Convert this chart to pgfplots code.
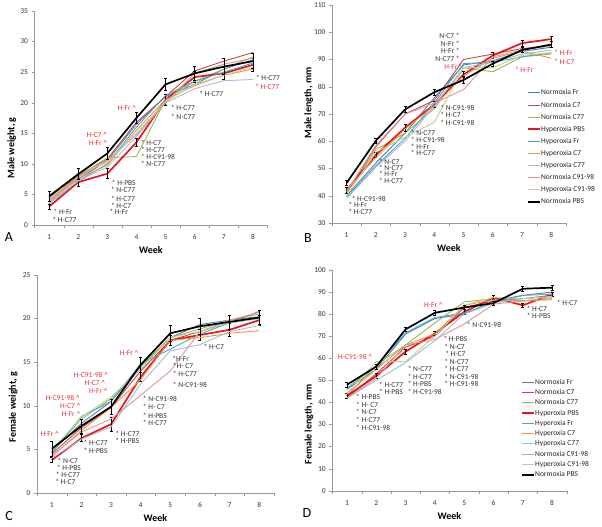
\documentclass[border=0pt]{standalone}
\usepackage{fontspec}
\setmainfont{Carlito}
\usepackage{pgfplots}
\usepackage{pgfplotstable}
\pgfplotsset{compat=1.18}

\definecolor{nfr}{HTML}{4A7EBB}
\definecolor{nc7}{HTML}{BE4B48}
\definecolor{nc77}{HTML}{98B954}
\definecolor{hpbs}{HTML}{E8141B}
\definecolor{hfr}{HTML}{46AAC5}
\definecolor{hc7}{HTML}{F69240}
\definecolor{hc77}{HTML}{A7B9DC}
\definecolor{nc9198}{HTML}{D99795}
\definecolor{hc9198}{HTML}{BCD196}
\definecolor{annred}{HTML}{E5323A}

% week, series..., errors of the two PBS groups
\pgfplotstableread{
week nfr nc7 nc77 hpbs hfr hc7 hc77 nc9198 hc9198 npbs ehpbs enpbs
1 4.2 4.5 4.0 3.0 3.5 3.8 3.6 3.9 4.1 4.7 0.4 0.8
2 7.5 8.0 8.0 7.0 7.2 7.6 7.2 7.8 8.5 8.3 0.6 0.9
3 10.5 10.8 11.0 8.4 10.0 9.8 9.5 10.5 10.2 11.7 0.8 1.0
4 16.5 16.8 11.2 13.5 16.0 15.5 14.5 14.8 15.0 17.5 0.7 0.9
5 21.0 21.0 20.5 20.5 21.2 20.5 20.0 20.0 20.2 23.0 0.9 1.0
6 23.0 25.2 23.5 24.2 23.5 22.8 22.3 24.8 23.0 24.8 0.9 1.2
7 25.5 26.8 25.5 24.8 25.0 24.5 23.6 26.3 24.5 25.9 1.0 1.3
8 27.0 28.2 27.5 26.2 26.5 25.5 23.8 27.3 25.8 26.8 1.0 1.2
}\dataA
\pgfplotstableread{
week nfr nc7 nc77 hpbs hfr hc7 hc77 nc9198 hc9198 npbs ehpbs enpbs
1 40 41 41 42 39.5 42 39 41.5 40 44.7 1.0 1.0
2 52 58 57 55 51 54 50.5 58.5 56 60.2 1.0 1.0
3 63 70 63 65 61 64.5 60 70 61.5 71.7 1.2 1.0
4 76 75 72 73.5 74 73 73 74 67 78 1.0 1.0
5 88 90 87 84.5 88.5 84 87 79 87 82.5 1.2 1.2
6 89.5 92 85.5 91.5 89 90.5 89 91 87 88.5 1.0 1.0
7 93 94 91 96 91 93 92 93.5 91.5 93.5 1.0 1.0
8 94.5 95 92 97.5 92.5 90.5 93.5 95 92.5 95.5 1.0 1.0
}\dataB
\pgfplotstableread{
week nfr nc7 nc77 hpbs hfr hc7 hc77 nc9198 hc9198 npbs ehpbs enpbs
1 4.8 4.5 4.7 3.8 4.6 4.2 4.0 4.3 4.9 5.1 0.3 0.9
2 8.0 7.5 8.5 6.3 8.8 7.2 6.2 7.0 8.7 7.7 0.4 0.8
3 10.5 9.8 10.8 7.9 10.5 9.8 7.6 8.5 11.0 9.9 0.8 0.9
4 14.5 14.0 14.5 13.3 14.8 13.0 12.5 11.2 14.2 14.7 0.5 0.9
5 17.8 17.5 17.8 17.5 16.5 17.5 16.3 14.0 17.8 18.3 0.6 0.9
6 19.3 18.5 18.8 18.1 18.2 17.8 17.0 18.5 18.5 19.1 0.6 0.9
7 19.8 19.5 19.8 18.7 19.5 18.3 18.5 19.8 19.5 19.6 0.7 0.8
8 20.2 20.8 20.5 19.8 20.0 18.6 19.2 20.7 20.0 20.1 0.6 0.8
}\dataC
\pgfplotstableread{
week nfr nc7 nc77 hpbs hfr hc7 hc77 nc9198 hc9198 npbs ehpbs enpbs
1 46 42 43 43 46.5 44 42 42 44 48 1.0 1.2
2 55 53 57 52 56.5 55 50 51 58.5 56.2 1.0 1.2
3 71 65 66 63 71.5 66 58 66 58.5 73.1 1.2 1.0
4 78 70 76 71.3 78.5 71 68 68.5 70 80.6 1.0 1.0
5 80 83 85.5 81 80.5 84 80 75.5 84 83 1.0 1.0
6 86 86 87 87.5 85 86.5 85 84.5 87.5 85 1.0 1.0
7 88.5 87 86 84 88.5 86 87 86 87 91.5 1.0 1.0
8 90 88.5 87 89 89 86.5 88 87.5 88 92 1.0 1.0
}\dataD

\tikzset{
  ann/.style={anchor=west, font=\fontsize{7.5}{8}\selectfont, text=black!80, inner sep=0pt},
  rann/.style={anchor=center, font=\fontsize{7.5}{8}\selectfont, text=annred, inner sep=0pt},
}

\pgfplotsset{
  panel/.style={
    scale only axis,
    xmin=0.5, xmax=8.5,
    axis x line*=bottom, axis y line*=left,
    axis line style={draw=black!40},
    xtick={1,...,8},
    minor xtick={0.5,1.5,...,8.5},
    major x tick style={draw=none},
    minor x tick style={draw=black!40},
    y tick style={draw=black!40},
    minor tick length=3pt, major tick length=3pt,
    tick align=outside,
    tick label style={font=\fontsize{7.5}{8}\selectfont, text=black!80},
    xticklabel style={yshift=-3pt},
    /pgf/number format/assume math mode=true,
    xlabel={Week},
    label style={font=\bfseries\fontsize{10}{11}\selectfont},
    xlabel style={at={(axis description cs:0.5,-0.115)}, anchor=center},
    ylabel style={anchor=center},
    every axis plot/.append style={no marks, line join=round},
    clip=false,
    legend image code/.code={\draw[##1] (0pt,0pt) -- (12pt,0pt);},
    legend cell align=left,
  },
  s1/.style={color=nfr, line width=0.9pt},
  s2/.style={color=nc7, line width=0.9pt},
  s3/.style={color=nc77, line width=0.9pt},
  s4/.style={color=hpbs, line width=1.7pt},
  s5/.style={color=hfr, line width=0.9pt},
  s6/.style={color=hc7, line width=0.9pt},
  s7/.style={color=hc77, line width=0.9pt},
  s8/.style={color=nc9198, line width=0.9pt},
  s9/.style={color=hc9198, line width=0.9pt},
  s10/.style={color=black, line width=1.7pt},
  eb/.style={error bars/.cd, y dir=both, y explicit,
     error bar style={line width=0.6pt, black}, error mark options={line width=0.6pt, black, mark size=1.5pt, rotate=90}},
  leg/.style={legend style={draw=none, fill=none, anchor=north west,
    font=\fontsize{7.5}{8}\selectfont, inner sep=0pt, outer sep=0pt, text=black!85,
    nodes={inner sep=0.5pt, text height=5.5pt, text depth=1.5pt},
    row sep=#1}},
}

\newcommand{\allplots}[1]{%
  \addplot[s1] table[x=week,y=nfr] {#1};
  \addplot[s2] table[x=week,y=nc7] {#1};
  \addplot[s3] table[x=week,y=nc77] {#1};
  \addplot[s4, eb] table[x=week,y=hpbs,y error=ehpbs] {#1};
  \addplot[s5] table[x=week,y=hfr] {#1};
  \addplot[s6] table[x=week,y=hc7] {#1};
  \addplot[s7] table[x=week,y=hc77] {#1};
  \addplot[s8] table[x=week,y=nc9198] {#1};
  \addplot[s9] table[x=week,y=hc9198] {#1};
  \addplot[s10, eb] table[x=week,y=npbs,y error=enpbs] {#1};
}

\begin{document}
\begin{tikzpicture}[x=1pt,y=1pt]
\useasboundingbox (0,0) rectangle (602,527);

% ---------------- A ----------------
\begin{axis}[panel, at={(34.5pt,302pt)}, anchor=south west,
  width=233pt, height=214pt,
  ymin=0, ymax=35, ytick={0,5,...,35},
  ylabel={Male weight, g},
  ylabel style={at={(axis description cs:-0.098,0.36)}}]
\allplots{\dataA}
\node[ann] at (axis cs:1.15,2.1) {* H-Fr};
\node[ann] at (axis cs:1.11,0.9) {* H-C77};
\node[ann] at (axis cs:3.15,6.9) {* H-PBS};
\node[ann] at (axis cs:3.12,5.7) {* N-C77};
\node[ann] at (axis cs:3.12,4.3) {* H-C77};
\node[ann] at (axis cs:3.12,3.2) {* H-C7};
\node[ann] at (axis cs:3.07,2.1) {* H-Fr};
\node[ann] at (axis cs:4.15,13.4) {* H-C7};
\node[ann] at (axis cs:4.15,12.25) {* H-C77};
\node[ann] at (axis cs:4.15,11.1) {* H-C91-98};
\node[ann] at (axis cs:4.15,9.95) {* N-C77};
\node[ann] at (axis cs:5.18,19.1) {* H-C77};
\node[ann] at (axis cs:5.18,17.7) {* N-C77};
\node[ann] at (axis cs:6.15,21.5) {* H-C77};
\node[ann] at (axis cs:8.1,24.0) {* H-C77};
\node[ann, text=annred] at (axis cs:8.1,22.6) {\textsuperscript{v} H-C77};
\node[rann] at (axis cs:3.67,19.2) {H-Fr \textasciicircum};
\node[rann] at (axis cs:2.64,14.7) {H-C7 \textasciicircum};
\node[rann] at (axis cs:2.68,13.35) {H-Fr \textasciicircum};
\end{axis}

% ---------------- B ----------------
\begin{axis}[panel, at={(332pt,304pt)}, anchor=south west,
  width=234pt, height=218pt,
  ymin=30, ymax=110, ytick={30,40,...,110},
  ylabel={Male length, mm},
  ylabel style={at={(axis description cs:-0.1,0.55)}},
  leg=4.1pt, legend style={at={(rel axis cs:0.833,0.615)}}]
\allplots{\dataB}
\legend{Normoxia Fr, Normoxia C7, Normoxia C77, Hyperoxia PBS, Hyperoxia Fr, Hyperoxia C7, Hyperoxia C77, Normoxia C91-98, Hyperoxia C91-98, Normoxia PBS}
\node[ann] at (axis cs:1.17,38.9) {* H-C91-98};
\node[ann] at (axis cs:1.06,36.5) {* H-Fr};
\node[ann] at (axis cs:1.05,34.0) {* H-C77};
\node[ann] at (axis cs:2.1,52.6) {* N-C7};
\node[ann] at (axis cs:2.1,50.3) {* N-C77};
\node[ann] at (axis cs:2.1,48.0) {* H-Fr};
\node[ann] at (axis cs:2.1,45.6) {* H-C77};
\node[ann] at (axis cs:3.19,63.1) {* N-C77};
\node[ann] at (axis cs:3.19,60.6) {* H-C91-98};
\node[ann] at (axis cs:3.19,58.1) {* H-Fr};
\node[ann] at (axis cs:3.19,55.6) {* H-C77};
\node[ann] at (axis cs:4.2,72.2) {* N-C91-98};
\node[ann] at (axis cs:4.2,69.5) {* H-C7};
\node[ann] at (axis cs:4.2,66.9) {* H-C91-98};
\node[ann, anchor=east] at (axis cs:4.87,98.5) {N-C7 *};
\node[ann, anchor=east] at (axis cs:4.87,95.8) {N-Fr *};
\node[ann, anchor=east] at (axis cs:4.87,93.1) {H-Fr *};
\node[ann, anchor=east] at (axis cs:4.87,90.4) {N-C77 *};
\node[ann, anchor=east, text=annred] at (axis cs:4.95,87.3) {H-Fr \textsuperscript{v}};
\node[ann, text=annred] at (axis cs:6.78,86.4) {\textsuperscript{v} H-Fr};
\node[ann, text=annred] at (axis cs:8.12,92.6) {\textsuperscript{v} H-Fr};
\node[ann, text=annred] at (axis cs:8.12,89.2) {\textsuperscript{v} H-C7};
\end{axis}

% ---------------- C ----------------
\begin{axis}[panel, at={(37pt,33.7pt)}, anchor=south west,
  width=237pt, height=218.6pt,
  ymin=0, ymax=25, ytick={0,5,...,25},
  ylabel={Female weight, g},
  ylabel style={at={(axis description cs:-0.1,0.395)}}]
\allplots{\dataC}
\node[ann] at (axis cs:1.19,3.75) {* N-C7};
\node[ann] at (axis cs:1.17,2.9) {* H-PBS};
\node[ann] at (axis cs:1.13,2.1) {* H-C77};
\node[ann] at (axis cs:1.11,1.3) {* H-C7};
\node[ann] at (axis cs:2.07,5.75) {* H-C77};
\node[ann] at (axis cs:2.07,4.9) {* H-PBS};
\node[ann] at (axis cs:3.14,6.85) {* H-C77};
\node[ann] at (axis cs:3.14,6.0) {* H-PBS};
\node[ann] at (axis cs:4.07,10.75) {* N-C91-98};
\node[ann] at (axis cs:4.07,9.9) {* H- C7};
\node[ann] at (axis cs:4.07,8.9) {* H-PBS};
\node[ann] at (axis cs:4.07,8.0) {* H-C77};
\node[ann] at (axis cs:5.06,15.4) {*H-Fr};
\node[ann] at (axis cs:5.08,14.55) {*H- C7};
\node[ann] at (axis cs:5.08,13.7) {* H-C77};
\node[ann] at (axis cs:5.08,12.4) {* N-C91-98};
\node[ann] at (axis cs:6.12,16.7) {* H-C7};
\node[rann] at (axis cs:0.93,6.8) {H-Fr \textasciicircum};
\node[rann] at (axis cs:1.37,10.95) {H-C91-98 \textasciicircum};
\node[rann] at (axis cs:1.62,10.0) {H-C7 \textasciicircum};
\node[rann] at (axis cs:1.65,9.05) {H-Fr \textasciicircum};
\node[rann] at (axis cs:2.32,13.5) {H-C91-98 \textasciicircum};
\node[rann] at (axis cs:2.46,12.6) {H-C7 \textasciicircum};
\node[rann] at (axis cs:2.57,11.7) {H-Fr \textasciicircum};
\node[rann] at (axis cs:3.61,16.0) {H-Fr \textasciicircum};
\end{axis}

% ---------------- D ----------------
\begin{axis}[panel, at={(332.3pt,36.3pt)}, anchor=south west,
  width=234.4pt, height=220.7pt,
  ymin=0, ymax=100, ytick={0,10,...,100},
  ylabel={Female length, mm},
  ylabel style={at={(axis description cs:-0.1,0.3)}},
  leg=2.3pt, legend style={at={(rel axis cs:0.805,0.51)}}]
\allplots{\dataD}
\legend{Normoxia Fr, Normoxia C7, Normoxia C77, Hyperoxia PBS, Hyperoxia Fr, Hyperoxia C7, Hyperoxia C77, Normoxia C91-98, Hyperoxia C91-98, Normoxia PBS}
\node[ann] at (axis cs:1.31,42.7) {* H-PBS};
\node[ann] at (axis cs:1.31,39.1) {* H- C7};
\node[ann] at (axis cs:1.31,35.5) {* N-C7};
\node[ann] at (axis cs:1.31,32.0) {* H-C77};
\node[ann] at (axis cs:1.31,28.5) {* H-C91-98};
\node[ann] at (axis cs:2.09,47.9) {* H-C77};
\node[ann] at (axis cs:2.09,44.6) {* H-PBS};
\node[ann] at (axis cs:3.07,55.2) {* N-C77};
\node[ann] at (axis cs:3.07,51.7) {* H-C77};
\node[ann] at (axis cs:3.07,48.2) {* H-PBS};
\node[ann] at (axis cs:3.07,44.7) {* H-C91-98};
\node[ann] at (axis cs:4.29,68.7) {* H-PBS};
\node[ann] at (axis cs:4.32,65.3) {* N-C7};
\node[ann] at (axis cs:4.35,62.0) {* H-C7};
\node[ann] at (axis cs:4.32,58.6) {* N-C77};
\node[ann] at (axis cs:4.32,55.2) {* H-C77};
\node[ann] at (axis cs:4.32,51.7) {* N-C91-98};
\node[ann] at (axis cs:4.32,48.2) {* H-C91-98};
\node[ann] at (axis cs:5.09,75.3) {* N-C91-98};
\node[ann] at (axis cs:8.16,84.9) {* H-C7};
\node[ann] at (axis cs:7.13,82.4) {* H-C7};
\node[ann] at (axis cs:7.13,79.2) {* H-PBS};
\node[rann] at (axis cs:1.28,60.4) {H-C91-98 \textasciicircum};
\node[rann] at (axis cs:3.95,84.3) {H-Fr \textasciicircum};
\end{axis}

% panel letters
\node[font=\fontsize{14}{15}\selectfont, inner sep=0pt] at (9,290) {A};
\node[font=\fontsize{14}{15}\selectfont, inner sep=0pt] at (308,289) {B};
\node[font=\fontsize{14}{15}\selectfont, inner sep=0pt] at (9,11) {C};
\node[font=\fontsize{14}{15}\selectfont, inner sep=0pt] at (307,14) {D};
\end{tikzpicture}
\end{document}
